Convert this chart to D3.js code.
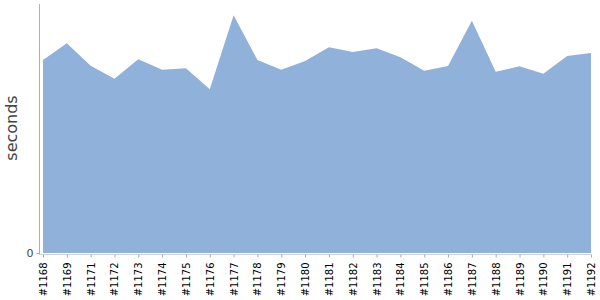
<!DOCTYPE html>
<html><head><meta charset="utf-8">
<script src="https://cdn.jsdelivr.net/npm/d3@7"></script>
<style>body{margin:0;background:#fff}svg{display:block}</style>
</head><body>
<svg id="c" width="600" height="300"></svg>
<script>
const builds = ["#1168","#1169","#1171","#1172","#1173","#1174","#1175","#1176","#1177","#1178","#1179","#1180","#1181","#1182","#1183","#1184","#1185","#1186","#1187","#1188","#1189","#1190","#1191","#1192"];
const seconds = [193,209.7,187.3,174.3,193.7,183.3,184.7,163.7,237.7,193,183.3,192,205.7,201,204.7,195.7,182.3,187,232.3,181.3,186.7,179.3,197,200];
const yTicks = [0];

const svg = d3.select("#c");
const x = d3.scalePoint().domain(builds).range([43, 591]);
const y = d3.scaleLinear().domain([0, 249]).range([253, 4]);

const data = builds.map((b,i)=>({b, v: seconds[i]}));
svg.append("path").datum(data)
  .attr("fill", "#8fb1da")
  .attr("d", d3.area().x(d=>x(d.b)).y0(y(0)).y1(d=>y(d.v)));

// y axis line
svg.append("line").attr("x1",39.5).attr("x2",39.5).attr("y1",4).attr("y2",254.5)
  .attr("stroke","#b0b0b0");
// x axis line
svg.append("line").attr("x1",39.5).attr("x2",591).attr("y1",254.5).attr("y2",254.5)
  .attr("stroke","#d0d0d0");

const xa = svg.append("g").attr("transform","translate(0,254.5)")
  .call(d3.axisBottom(x).tickSize(3).tickPadding(4));
xa.select(".domain").remove();
xa.selectAll(".tick line").attr("stroke","#aaa");
xa.selectAll("text")
  .attr("font-family","DejaVu Sans").attr("font-size",10).attr("fill","#000")
  .attr("transform","rotate(-90)").attr("text-anchor","end")
  .attr("x",-8).attr("y",0).attr("dy","0.35em");

const ya = svg.append("g").attr("transform","translate(39.5,0)")
  .call(d3.axisLeft(y).tickValues(yTicks).tickSize(3).tickPadding(3));
ya.select(".domain").remove();
ya.selectAll(".tick line").attr("stroke","#aaa");
ya.selectAll("text").attr("font-family","DejaVu Sans").attr("font-size",11).attr("fill","#444");

svg.append("text").attr("transform","translate(17,128) rotate(-90)")
  .attr("text-anchor","middle").attr("font-family","DejaVu Sans").attr("font-size",16)
  .attr("fill","#444").text("seconds");
</script>
</body></html>
